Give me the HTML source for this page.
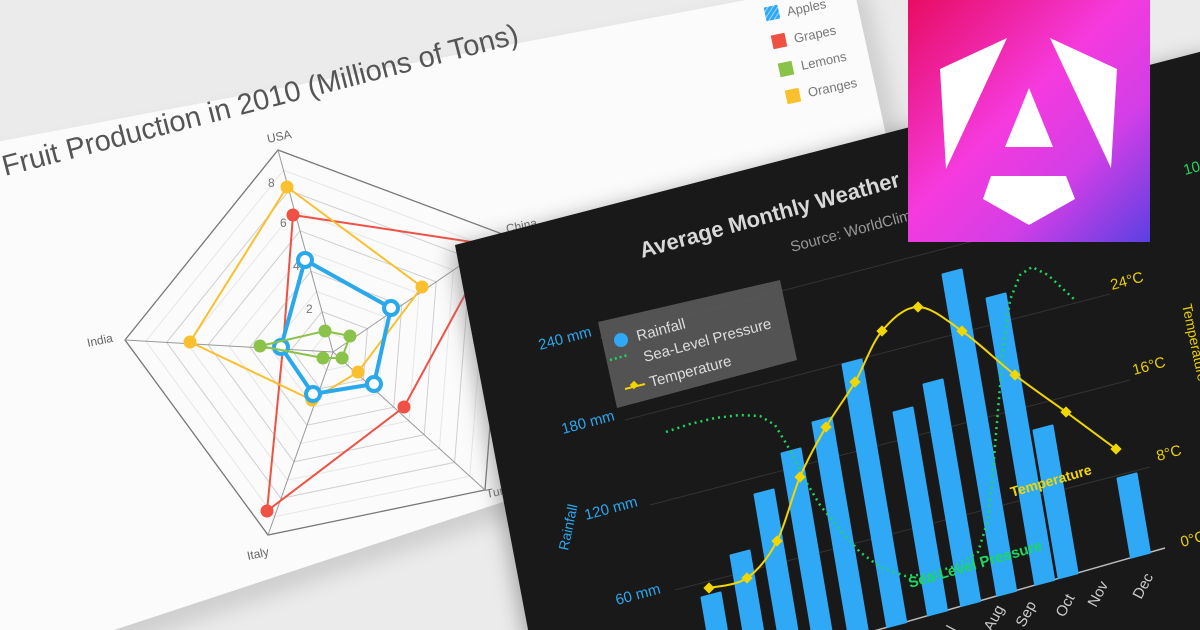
<!DOCTYPE html>
<html><head><meta charset="utf-8"><style>
html,body{margin:0;padding:0;background:#ebebeb;overflow:hidden;width:1200px;height:630px;}
svg{display:block;font-family:"Liberation Sans",sans-serif;}
</style></head><body>
<svg id="s" width="1200" height="630" viewBox="0 0 1200 630" xmlns="http://www.w3.org/2000/svg">
<defs>
<linearGradient id="lg" x1="0" y1="0" x2="1" y2="1">
<stop offset="0" stop-color="#e80c62"/><stop offset="0.45" stop-color="#f53ade"/><stop offset="0.7" stop-color="#d23ee6"/><stop offset="1" stop-color="#5a40e2"/>
</linearGradient>
<clipPath id="dk"><polygon points="455,245 1215,48 1215,640 530,640"/></clipPath>
<clipPath id="fr"><rect width="1200" height="630"/></clipPath>
<filter id="sh" x="-10%" y="-10%" width="120%" height="120%"><feGaussianBlur stdDeviation="10"/></filter>
<pattern id="hatch" width="4" height="4" patternUnits="userSpaceOnUse" patternTransform="rotate(45)"><rect width="4" height="4" fill="#2fa9f5"/><rect width="1" height="4" fill="#9fd8fb"/></pattern>
</defs>
<g clip-path="url(#fr)">
<rect width="1200" height="630" fill="#ebebeb"/>
<polygon points="-20,150 860,-20 900,150 620,470 110,640 -20,640" fill="#cfcfcf" filter="url(#sh)" transform="translate(6,8)"/>
<polygon points="-20,145 852,-20 886,135 600,470 108,632 -20,630" fill="#fbfbfb"/>
<g id="radar"></g>
<text x="5" y="176" transform="rotate(-14.5 5 176)" font-size="29" fill="#555" textLength="532" lengthAdjust="spacingAndGlyphs">Fruit Production in 2010 (Millions of Tons)</text>
<g font-size="13" fill="#777">
<rect x="765" y="6" width="14" height="14" fill="url(#hatch)" transform="rotate(-12 772 13)"/><text x="788" y="16" transform="rotate(-12 788 16)">Apples</text>
<rect x="772" y="34" width="14" height="14" fill="#ef5144" transform="rotate(-12 779 41)"/><text x="795" y="43" transform="rotate(-12 795 43)">Grapes</text>
<rect x="779" y="62" width="14" height="14" fill="#8bc34a" transform="rotate(-12 786 69)"/><text x="802" y="70" transform="rotate(-12 802 70)">Lemons</text>
<rect x="786" y="89" width="14" height="14" fill="#fbc02d" transform="rotate(-12 793 96)"/><text x="809" y="97" transform="rotate(-12 809 97)">Oranges</text>
</g>
<polygon points="455,245 1215,48 1215,640 530,640" fill="#777" filter="url(#sh)" transform="translate(-4,4)" opacity="0.6"/>
<polygon points="455,245 1215,48 1215,640 530,640" fill="#191919"/>
<g clip-path="url(#dk)">
<g stroke="#333" stroke-width="1">
<line x1="600" y1="338" x2="1105" y2="207"/>
<line x1="625" y1="420" x2="1110" y2="294"/>
<line x1="650" y1="505" x2="1130" y2="380"/>
<line x1="675" y1="590" x2="1150" y2="467"/>
</g>
<line x1="860" y1="635" x2="1165" y2="548" stroke="#bbb" stroke-width="1.5"/>
<g id="bars" fill="#2fa9f5"></g>
<polyline fill="none" stroke="#1ed760" stroke-width="2.5" stroke-dasharray="2 4" points="666,432 690,424 715,418 740,415 760,416 775,425 790,450 805,480 820,505 840,530 860,552 880,567 905,576 930,574 955,566 978,552 988,520 993,470 998,410 1003,350 1010,300 1020,275 1032,267 1048,275 1062,288 1075,300"/>
<path id="temp" fill="none" stroke="#f2d600" stroke-width="2"/>
<g id="tm" fill="#f2d600"></g>
</g>
<text x="642" y="258" transform="rotate(-15.5 642 258)" font-size="22" font-weight="bold" fill="#d8d8d8">Average Monthly Weather</text>
<text x="792" y="252" transform="rotate(-15 792 252)" font-size="15" fill="#999">Source: WorldClimate</text>
<g font-size="15" fill="#2aa8f0">
<text x="540" y="350" transform="rotate(-15 540 350)">240 mm</text>
<text x="563" y="434" transform="rotate(-15 563 434)">180 mm</text>
<text x="586" y="520" transform="rotate(-15 586 520)">120 mm</text>
<text x="617" y="605" transform="rotate(-15 617 605)">60 mm</text>
<text x="568" y="551" transform="rotate(-78 568 551)" font-size="14">Rainfall</text>
</g>
<g font-size="15" fill="#e8cf00">
<text x="1112" y="290" transform="rotate(-15 1112 290)">24°C</text>
<text x="1134" y="375" transform="rotate(-15 1134 375)">16°C</text>
<text x="1158" y="461" transform="rotate(-15 1158 461)">8°C</text>
<text x="1182" y="547" transform="rotate(-15 1182 547)">0°C</text>
<text x="1182" y="305" transform="rotate(78 1182 305)" font-size="14">Temperature</text>
</g>
<text x="1185" y="175" transform="rotate(-15 1185 175)" font-size="15" fill="#1ed760">10</text>
<g font-size="15" fill="#ccc">
<text x="955" y="632" transform="rotate(-62 955 632)">l</text>
<text x="992" y="632" transform="rotate(-62 992 632)">Aug</text>
<text x="1024" y="628" transform="rotate(-62 1024 628)">Sep</text>
<text x="1064" y="618" transform="rotate(-62 1064 618)">Oct</text>
<text x="1096" y="608" transform="rotate(-62 1096 608)">Nov</text>
<text x="1141" y="600" transform="rotate(-62 1141 600)">Dec</text>
</g>
<text x="910" y="588" transform="rotate(-16 910 588)" font-size="15" font-weight="bold" fill="#1ed760">Sea-Level Pressure</text>
<text x="1012" y="497" transform="rotate(-16 1012 497)" font-size="14" font-weight="bold" fill="#f2d600">Temperature</text>
<polygon points="598,322 780,280 797,360 617,408" fill="#5a5a5a" opacity="0.9"/>
<circle cx="621" cy="340" r="7" fill="#2fa9f5"/>
<text x="638" y="341" transform="rotate(-15 638 341)" font-size="15" fill="#ddd">Rainfall</text>
<line x1="610" y1="360" x2="628" y2="355" stroke="#1ed760" stroke-width="2.5" stroke-dasharray="2 3"/>
<text x="645" y="362" transform="rotate(-15 645 362)" font-size="15" fill="#ddd">Sea-Level Pressure</text>
<line x1="625" y1="389" x2="645" y2="384" stroke="#f2d600" stroke-width="2"/>
<rect x="631" y="382" width="6" height="6" fill="#f2d600" transform="rotate(45 634 385)"/>
<text x="651" y="387" transform="rotate(-15 651 387)" font-size="15" fill="#ddd">Temperature</text>
<rect x="908" y="0" width="242" height="242" fill="url(#lg)"/>
<g fill="#fff">
<polygon points="940,69 1007,38 946,169"/>
<polygon points="1050,38 1117,69 1111,168"/>
<polygon points="1029,88 1053,147 1005,147"/>
<polygon points="991,176 1066,176 1075,199 1029,225 983,199"/>
</g>
</g>
</svg>
<script>
var NS="http://www.w3.org/2000/svg";
function el(p,t,a){var e=document.createElementNS(NS,t);for(var k in a)e.setAttribute(k,a[k]);p.appendChild(e);return e;}
var r=document.getElementById("radar");
var C=[333,352],V=[[278,150],[505,235],[485,490],[268,535],[125,340]];
function pt(i,f){return [C[0]+(V[i][0]-C[0])*f,C[1]+(V[i][1]-C[1])*f];}
for(var l=1;l<=10;l++){var f=l/10,ps=[];for(var i=0;i<5;i++)ps.push(pt(i,f).join(","));
el(r,"polygon",{points:ps.join(" "),fill:"none",stroke:l==10?"#777":(l%2?"#e6e6e6":"#cfcfcf"),"stroke-width":l==10?1.3:1});}
for(var i=0;i<5;i++){var p=pt(i,1);el(r,"line",{x1:C[0],y1:C[1],x2:p[0],y2:p[1],stroke:"#999","stroke-width":1});}
var labs=[["USA",268,143],["China",507,233],["Turke",487,498],["Italy",248,560],["India",88,347]];
labs.forEach(function(a){var t=el(r,"text",{x:a[1],y:a[2],"font-size":12,fill:"#666",transform:"rotate(-12 "+a[1]+" "+a[2]+")"});t.textContent=a[0];});
[["8",268,187],["6",280,227],["4",293,270],["2",306,313]].forEach(function(a){var t=el(r,"text",{x:a[1],y:a[2],"font-size":12,fill:"#777"});t.textContent=a[0];});
function ser(pts,col,w,hollow,rad){el(r,"polygon",{points:pts.map(function(p){return p.join(",")}).join(" "),fill:"none",stroke:col,"stroke-width":w});
pts.forEach(function(p){el(r,"circle",{cx:p[0],cy:p[1],r:rad,fill:hollow?"#fff":col,stroke:col,"stroke-width":hollow?4:0});});}
ser([[293,215],[492,245],[404,407],[267,511],[283,347]],"#ef5144",2,false,6.5);
ser([[287,187],[422,287],[358,372],[312,400],[190,342]],"#fbc02d",2,false,6.5);
ser([[305,260],[391,308],[374,384],[313,394],[281,347]],"#29a9ec",4,true,7);
ser([[325,331],[350,336],[342,358],[323,358],[260,346]],"#8bc34a",2,false,6.5);
var b=document.getElementById("bars");
var tops=[[711,595],[740,553],[764,492],[791,451],[822,420],[852,362],[903,410],[933,382],[952,272],[996,296],[1043,428],[1127,476]];
tops.forEach(function(t){var Tx=t[0]-9.5,Ty=t[1]+2.5;var s=0.17;
var tt=(632-(Tx-870)*0.285-Ty)/(1+s*0.285);var w=[19,-5];
var P=[[Tx,Ty],[Tx+w[0],Ty+w[1]],[Tx+w[0]+s*tt,Ty+w[1]+tt],[Tx+s*tt,Ty+tt]];
el(b,"polygon",{points:P.map(function(p){return p.join(",")}).join(" "),fill:"#2fa9f5",stroke:"#2fa9f5","stroke-width":2,"stroke-linejoin":"round"});});
var tp=[[709,588],[747,578],[777,541],[800,477],[826,427],[855,382],[882,331],[918,307],[962,331],[1015,375],[1066,412],[1116,449]];
var d="M"+tp[0].join(",");
for(var i=0;i<tp.length-1;i++){var p0=tp[Math.max(0,i-1)],p1=tp[i],p2=tp[i+1],p3=tp[Math.min(tp.length-1,i+2)];
d+=" C"+(p1[0]+(p2[0]-p0[0])/6)+","+(p1[1]+(p2[1]-p0[1])/6)+" "+(p2[0]-(p3[0]-p1[0])/6)+","+(p2[1]-(p3[1]-p1[1])/6)+" "+p2.join(",");}
document.getElementById("temp").setAttribute("d",d);
var tm=document.getElementById("tm");
tp.forEach(function(p){el(tm,"rect",{x:p[0]-4,y:p[1]-4,width:8,height:8,transform:"rotate(45 "+p[0]+" "+p[1]+")"});});
</script>
</body></html>
